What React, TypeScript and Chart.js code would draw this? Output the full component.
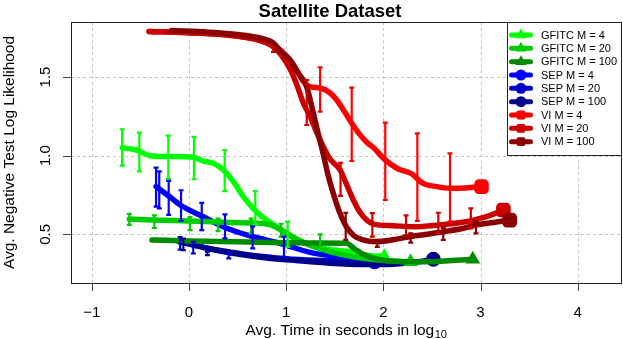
import React, { useEffect, useRef } from "react";
import { Chart, registerables } from "chart.js";

Chart.register(...registerables);

const FONT = '"Liberation Sans", Arial, Helvetica, sans-serif';

const chartTitle = "Satellite Dataset";
const xAxisTitle = "Avg. Time in seconds in log";
const xAxisSub = "10";
const yAxisTitle = "Avg. Negative Test Log Likelihood";
const xTicks = [-1, 0, 1, 2, 3, 4];
const xTickLabels = ["\u22121", "0", "1", "2", "3", "4"];
const yTicks = [0.5, 1.0, 1.5];
const yTickLabels = ["0.5", "1.0", "1.5"];

const seriesNames = [
  "GFITC M = 4",
  "GFITC M = 20",
  "GFITC M = 100",
  "SEP M = 4",
  "SEP M = 20",
  "SEP M = 100",
  "VI M = 4",
  "VI M = 20",
  "VI M = 100",
];
const seriesColors = ["#00FF00", "#00CD00", "#008B00", "#0000FF", "#0000CD", "#00008B", "#FF0000", "#CD0000", "#8B0000"];

// GFITC M = 4
const g4X = [-0.685, -0.54, -0.4, -0.19, 0.045, 0.15, 0.25, 0.354, 0.457, 0.56, 0.7, 0.87, 1.0, 1.14, 1.3, 1.5, 1.7, 1.85, 2.01];
const g4Y = [1.05, 1.036, 1.0, 0.994, 0.99, 0.965, 0.952, 0.91, 0.835, 0.74, 0.64, 0.56, 0.51, 0.46, 0.42, 0.4, 0.385, 0.365, 0.358];
const g4EX = [-0.687, -0.51, -0.212, 0.052, 0.368, 0.683, 1.016];
const g4ELo = [0.936, 0.9, 0.852, 0.85, 0.775, 0.56, 0.42];
const g4EHi = [1.168, 1.146, 1.127, 1.12, 1.036, 0.775, 0.58];

// GFITC M = 20
const g20X = [-0.613, -0.3, 0.0, 0.3, 0.6, 0.8, 0.9, 0.97, 1.1, 1.25, 1.45, 1.7, 1.9, 2.1, 2.28];
const g20Y = [0.597, 0.59, 0.585, 0.578, 0.572, 0.565, 0.545, 0.517, 0.47, 0.43, 0.39, 0.355, 0.34, 0.33, 0.326];
const g20EX = [-0.613, -0.356, 0.011, 0.3, 0.64, 0.948, 1.35];
const g20ELo = [0.56, 0.54, 0.527, 0.52, 0.506, 0.485, 0.41];
const g20EHi = [0.63, 0.62, 0.61, 0.6, 0.6, 0.567, 0.5];

// GFITC M = 100
const g100X = [-0.38, 0.0, 0.5, 1.0, 1.3, 1.62, 1.7, 1.8, 1.95, 2.2, 2.5, 2.7, 2.92];
const g100Y = [0.464, 0.458, 0.452, 0.447, 0.444, 0.443, 0.41, 0.37, 0.34, 0.325, 0.325, 0.333, 0.341];
const g100EX: number[] = [];
const g100ELo: number[] = [];
const g100EHi: number[] = [];

// SEP M = 4
const s4X = [-0.338, -0.2, -0.09, 0.148, 0.389, 0.663, 0.937, 1.246, 1.45, 1.633];
const s4Y = [0.803, 0.74, 0.686, 0.612, 0.538, 0.485, 0.443, 0.385, 0.365, 0.354];
const s4EX = [-0.338, -0.305, -0.208, -0.081, 0.132, 0.371, 0.656, 0.978];
const s4ELo = [0.676, 0.665, 0.623, 0.586, 0.527, 0.474, 0.41, 0.357];
const s4EHi = [0.924, 0.9, 0.84, 0.78, 0.7, 0.627, 0.55, 0.485];

// SEP M = 20
const s20X = [-0.09, 0.045, 0.2, 0.4, 0.66, 1.0, 1.3, 1.6, 1.91];
const s20Y = [0.46, 0.435, 0.41, 0.39, 0.365, 0.345, 0.335, 0.33, 0.326];
const s20EX = [-0.09, 0.045, 0.41];
const s20ELo = [0.403, 0.378, 0.347];
const s20EHi = [0.483, 0.452, 0.378];

// SEP M = 100
const s100X = [-0.1, 0.2, 0.5, 0.8, 1.1, 1.45, 1.8, 2.1, 2.3, 2.515];
const s100Y = [0.452, 0.41, 0.375, 0.35, 0.333, 0.316, 0.308, 0.31, 0.32, 0.341];
const s100EX = [-0.057, 0.19];
const s100ELo = [0.4, 0.368];
const s100EHi = [0.473, 0.389];

// VI M = 4
const v4X = [-0.41, 0.0, 0.4, 0.7, 0.9, 1.0, 1.1, 1.18, 1.25, 1.35, 1.45, 1.52, 1.6, 1.675, 1.75, 1.83, 1.9, 2.02, 2.14, 2.29, 2.41, 2.55, 2.69, 2.85, 3.01];
const v4Y = [1.79, 1.782, 1.767, 1.738, 1.69, 1.635, 1.55, 1.47, 1.437, 1.43, 1.4, 1.354, 1.28, 1.206, 1.14, 1.085, 1.05, 0.973, 0.92, 0.885, 0.824, 0.803, 0.793, 0.795, 0.803];
const v4EX = [1.35, 1.675, 2.02, 2.35, 2.686];
const v4ELo = [1.28, 0.966, 0.718, 0.585, 0.58];
const v4EHi = [1.562, 1.433, 1.21, 1.142, 1.015];

// VI M = 20
const v20X = [-0.41, 0.0, 0.4, 0.7, 0.85, 0.95, 1.05, 1.11, 1.18, 1.246, 1.3, 1.38, 1.45, 1.555, 1.62, 1.69, 1.76, 1.83, 1.9, 2.1, 2.31, 2.58, 2.8, 2.93, 3.1, 3.235];
const v20Y = [1.79, 1.782, 1.767, 1.738, 1.7, 1.64, 1.54, 1.45, 1.33, 1.25, 1.17, 1.06, 0.98, 0.91, 0.82, 0.72, 0.64, 0.59, 0.565, 0.555, 0.548, 0.56, 0.575, 0.59, 0.62, 0.655];
const v20EX = [0.87, 1.212, 1.56, 1.887, 2.234, 2.566, 2.9];
const v20ELo = [1.66, 1.195, 0.744, 0.485, 0.495, 0.506, 0.538];
const v20EHi = [1.69, 1.48, 0.955, 0.634, 0.62, 0.637, 0.665];

// VI M = 100
const v100X = [-0.18, 0.2, 0.5, 0.75, 0.87, 0.95, 1.04, 1.12, 1.21, 1.28, 1.33, 1.38, 1.43, 1.485, 1.55, 1.62, 1.7, 1.79, 1.93, 2.1, 2.27, 2.45, 2.62, 2.8, 2.96, 3.13, 3.3];
const v100Y = [1.795, 1.785, 1.77, 1.745, 1.715, 1.66, 1.61, 1.53, 1.44, 1.27, 1.14, 1.015, 0.88, 0.76, 0.64, 0.548, 0.49, 0.464, 0.453, 0.465, 0.485, 0.5, 0.517, 0.535, 0.56, 0.575, 0.59];
const v100EX = [1.613, 1.938, 2.282, 2.617, 2.953];
const v100ELo = [0.464, 0.42, 0.447, 0.464, 0.506];
const v100EHi = [0.637, 0.464, 0.506, 0.54, 0.58];

const X_MIN = -1.213;
const X_MAX = 4.445;
const Y_MIN = 0.1904;
const Y_MAX = 1.8497;

type Marker = "triangle" | "circle" | "rectRounded";

interface Series {
  name: string;
  color: string;
  xs: number[];
  ys: number[];
  ex: number[];
  elo: number[];
  ehi: number[];
  marker: Marker;
  size: number;
  order: number;
}

function buildSeries(): Series[] {
  const xs = [g4X, g20X, g100X, s4X, s20X, s100X, v4X, v20X, v100X];
  const ys = [g4Y, g20Y, g100Y, s4Y, s20Y, s100Y, v4Y, v20Y, v100Y];
  const exs = [g4EX, g20EX, g100EX, s4EX, s20EX, s100EX, v4EX, v20EX, v100EX];
  const elos = [g4ELo, g20ELo, g100ELo, s4ELo, s20ELo, s100ELo, v4ELo, v20ELo, v100ELo];
  const ehis = [g4EHi, g20EHi, g100EHi, s4EHi, s20EHi, s100EHi, v4EHi, v20EHi, v100EHi];
  const orders = [6, 5, 4, 9, 8, 7, 3, 2, 1];
  return seriesNames.map((name, i) => {
    const marker: Marker = i < 3 ? "triangle" : i < 6 ? "circle" : "rectRounded";
    const size = marker === "triangle" ? 8.5 : marker === "circle" ? 7.5 : 8.5;
    return {
      name,
      color: seriesColors[i],
      xs: xs[i],
      ys: ys[i],
      ex: exs[i],
      elo: elos[i],
      ehi: ehis[i],
      marker,
      size,
      order: orders[i],
    };
  });
}

function drawMarker(ctx: CanvasRenderingContext2D, m: Marker, x: number, y: number, r: number) {
  ctx.beginPath();
  if (m === "circle") {
    ctx.arc(x, y, r, 0, Math.PI * 2);
  } else if (m === "triangle") {
    ctx.moveTo(x, y - r);
    ctx.lineTo(x + r * 0.866, y + r * 0.5);
    ctx.lineTo(x - r * 0.866, y + r * 0.5);
    ctx.closePath();
  } else {
    const s = r * 0.8;
    const c = r * 0.35;
    ctx.moveTo(x - s + c, y - s);
    ctx.arcTo(x + s, y - s, x + s, y + s, c);
    ctx.arcTo(x + s, y + s, x - s, y + s, c);
    ctx.arcTo(x - s, y + s, x - s, y - s, c);
    ctx.arcTo(x - s, y - s, x + s, y - s, c);
    ctx.closePath();
  }
  ctx.fill();
}

export default function App() {
  const ref = useRef<HTMLCanvasElement>(null);

  useEffect(() => {
    const series = buildSeries();

    const rPlugin = {
      id: "rStyle",
      beforeDatasetsDraw(chart: any) {
        const { ctx, chartArea: a, scales } = chart;
        const x = scales.x;
        const y = scales.y;
        ctx.save();
        ctx.strokeStyle = "#c4c4c4";
        ctx.lineWidth = 1;
        ctx.setLineDash([3, 3]);
        for (const t of xTicks) {
          const px = Math.round(x.getPixelForValue(t)) + 0.5;
          ctx.beginPath();
          ctx.moveTo(px, a.top);
          ctx.lineTo(px, a.bottom);
          ctx.stroke();
        }
        for (const t of yTicks) {
          const py = Math.round(y.getPixelForValue(t)) + 0.5;
          ctx.beginPath();
          ctx.moveTo(a.left, py);
          ctx.lineTo(a.right, py);
          ctx.stroke();
        }
        ctx.restore();
      },
      afterDatasetsDraw(chart: any) {
        const { ctx, chartArea: a, scales } = chart;
        const x = scales.x;
        const y = scales.y;
        ctx.save();

        // error bars
        ctx.lineWidth = 2.2;
        ctx.lineCap = "butt";
        for (const s of series) {
          ctx.strokeStyle = s.color;
          for (let i = 0; i < s.ex.length; i++) {
            const px = x.getPixelForValue(s.ex[i]);
            const pt = y.getPixelForValue(s.ehi[i]);
            const pb = y.getPixelForValue(s.elo[i]);
            ctx.beginPath();
            ctx.moveTo(px, pt);
            ctx.lineTo(px, pb);
            ctx.moveTo(px - 2.5, pt);
            ctx.lineTo(px + 2.5, pt);
            ctx.moveTo(px - 2.5, pb);
            ctx.lineTo(px + 2.5, pb);
            ctx.stroke();
          }
        }

        // box
        ctx.strokeStyle = "#222";
        ctx.lineWidth = 1;
        ctx.strokeRect(a.left + 0.5, a.top + 0.5, a.right - a.left, a.bottom - a.top);

        // ticks
        ctx.strokeStyle = "#444";
        ctx.beginPath();
        for (const t of xTicks) {
          const px = Math.round(x.getPixelForValue(t)) + 0.5;
          ctx.moveTo(px, a.bottom);
          ctx.lineTo(px, a.bottom + 8);
        }
        for (const t of yTicks) {
          const py = Math.round(y.getPixelForValue(t)) + 0.5;
          ctx.moveTo(a.left - 8, py);
          ctx.lineTo(a.left, py);
        }
        ctx.stroke();

        // tick labels
        ctx.fillStyle = "#000";
        ctx.font = `15px ${FONT}`;
        ctx.textAlign = "center";
        ctx.textBaseline = "alphabetic";
        xTicks.forEach((t, i) => {
          ctx.fillText(xTickLabels[i], x.getPixelForValue(t), 317);
        });
        yTicks.forEach((t, i) => {
          ctx.save();
          ctx.translate(50, y.getPixelForValue(t));
          ctx.rotate(-Math.PI / 2);
          ctx.fillText(yTickLabels[i], 0, 0);
          ctx.restore();
        });

        // axis titles
        ctx.font = `15.5px ${FONT}`;
        const mainW = ctx.measureText(xAxisTitle).width;
        ctx.font = `11px ${FONT}`;
        const subW = ctx.measureText(xAxisSub).width;
        const cx = (a.left + a.right) / 2;
        const sx = cx - (mainW + subW) / 2;
        ctx.textAlign = "left";
        ctx.font = `15.5px ${FONT}`;
        ctx.fillText(xAxisTitle, sx, 335);
        ctx.font = `11px ${FONT}`;
        ctx.fillText(xAxisSub, sx + mainW + 0.5, 338);

        ctx.save();
        ctx.font = `15.5px ${FONT}`;
        ctx.textAlign = "center";
        ctx.translate(13.5, (a.top + a.bottom) / 2);
        ctx.rotate(-Math.PI / 2);
        ctx.fillText(yAxisTitle, 0, 0);
        ctx.restore();

        // title
        ctx.font = `bold 18.5px ${FONT}`;
        ctx.textAlign = "center";
        ctx.fillText(chartTitle, 330, 16.5);

        // legend
        const lx = 507.5;
        const ly = a.top + 0.5;
        const lw = a.right - 507;
        const lh = 133;
        ctx.fillStyle = "#fff";
        ctx.fillRect(lx, ly, lw, lh);
        ctx.strokeStyle = "#222";
        ctx.lineWidth = 1;
        ctx.strokeRect(lx, ly, lw, lh);
        ctx.font = `11px ${FONT}`;
        ctx.textBaseline = "middle";
        ctx.textAlign = "left";
        series.forEach((s, i) => {
          const cy = 35 + i * 13.33;
          ctx.strokeStyle = s.color;
          ctx.lineWidth = 5;
          ctx.lineCap = "round";
          ctx.beginPath();
          ctx.moveTo(511.5, cy);
          ctx.lineTo(530.5, cy);
          ctx.stroke();
          ctx.fillStyle = s.color;
          drawMarker(ctx, s.marker, 521, cy, s.marker === "triangle" ? 6.5 : 5.5);
          ctx.fillStyle = "#000";
          ctx.fillText(s.name, 541, cy + 0.5);
        });

        ctx.restore();
      },
    };

    const chart = new Chart(ref.current as HTMLCanvasElement, {
      type: "line",
      data: {
        datasets: series.map((s) => ({
          label: s.name,
          data: s.xs.map((xv, i) => ({ x: xv, y: s.ys[i] })),
          borderColor: s.color,
          backgroundColor: s.color,
          borderWidth: 5.5,
          borderCapStyle: "round",
          borderJoinStyle: "round",
          cubicInterpolationMode: "monotone",
          fill: false,
          pointStyle: s.marker,
          pointRadius: (c: any) => (c.dataIndex === s.xs.length - 1 ? s.size : 0),
          pointHoverRadius: 0,
          pointBorderWidth: 0,
          pointBackgroundColor: s.color,
          order: s.order,
        })) as any,
      },
      options: {
        responsive: false,
        animation: false,
        events: [],
        layout: { autoPadding: false, padding: { left: 71, right: 2, top: 22, bottom: 56 } },
        scales: {
          x: { type: "linear", display: false, min: X_MIN, max: X_MAX },
          y: { type: "linear", display: false, min: Y_MIN, max: Y_MAX },
        },
        plugins: {
          legend: { display: false },
          tooltip: { enabled: false },
          title: { display: false },
        },
      },
      plugins: [rPlugin],
    });
    return () => chart.destroy();
  }, []);

  return (
    <div style={{ position: "fixed", left: 0, top: 0, width: 623, height: 339, background: "#fff" }}>
      <canvas ref={ref} width={623} height={339} style={{ display: "block", width: 623, height: 339 }} />
    </div>
  );
}
